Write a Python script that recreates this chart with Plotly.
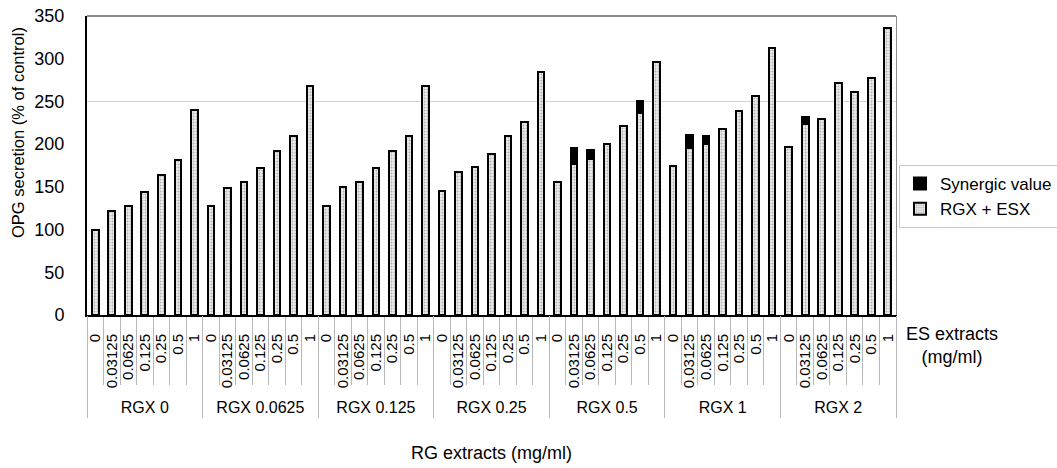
import plotly.graph_objects as go

rg_groups = ["RGX 0", "RGX 0.0625", "RGX 0.125", "RGX 0.25", "RGX 0.5", "RGX 1", "RGX 2"]
es_levels = ["0", "0.03125", "0.0625", "0.125", "0.25", "0.5", "1"]

# RGX + ESX values per RG group (each list follows es_levels)
rgx_0 = [100, 122, 128, 144, 164, 181, 240]
rgx_00625 = [128, 149, 156, 172, 192, 209, 268]
rgx_0125 = [128, 150, 156, 172, 192, 209, 268]
rgx_025 = [145, 167, 173, 189, 209, 226, 285]
rgx_05 = [156, 177, 183, 200, 221, 236, 296]
rgx_1 = [174, 195, 200, 218, 239, 256, 313]
rgx_2 = [197, 223, 230, 271, 261, 278, 336]

# Synergic value stacked on top (None = no synergy)
syn_0 = [None] * 7
syn_00625 = [None] * 7
syn_0125 = [None] * 7
syn_025 = [None] * 7
syn_05 = [None, 18, 10, None, None, 14.5, None]
syn_1 = [None, 16, 10, None, None, None, None]
syn_2 = [None, 9, None, None, None, None, None]

base_lists = [rgx_0, rgx_00625, rgx_0125, rgx_025, rgx_05, rgx_1, rgx_2]
syn_lists = [syn_0, syn_00625, syn_0125, syn_025, syn_05, syn_1, syn_2]

inner, base_vals, syn_vals = [], [], []
for bl, sl in zip(base_lists, syn_lists):
    inner.extend(es_levels)
    base_vals.extend(bl)
    syn_vals.extend(sl)

n_in = len(es_levels)
n = len(inner)
pos = list(range(n))
inner_bounds = [i + 0.5 for i in range(n - 1) if (i + 1) % n_in != 0]
group_bounds = [g * n_in - 0.5 for g in range(len(rg_groups) + 1)]
group_centers = [g * n_in + (n_in - 1) / 2 for g in range(len(rg_groups))]
xr = [-0.5, n - 0.5]

FONT = "Liberation Sans, Arial, sans-serif"
GRAY = "#b8b8b8"

# plot-area geometry in pixels (for converting text positions to paper coords)
W, H = 1057, 468
L, R, T, B = 87, 161, 16, 153
PW, PH = W - L - R, H - T - B


def px_x(x):
    return (x - L) / PW


def px_y(y):
    return (H - B - y) / PH


fig = go.Figure()
fig.add_trace(go.Bar(
    x=pos, y=base_vals, name="RGX + ESX",
    marker=dict(color="#e6e6e6",
                line=dict(color="black", width=2),
                pattern=dict(shape=".", bgcolor="#ececec", fgcolor="#7a7a7a",
                             size=3, solidity=0.35)),
))
fig.add_trace(go.Bar(
    x=pos, y=syn_vals, name="Synergic value",
    marker=dict(color="black", line=dict(color="black", width=2)),
))
# helper traces for the overlay axes (group labels / 250 gridline)
fig.add_trace(go.Scatter(x=[None], y=[None], xaxis="x2", yaxis="y",
                         showlegend=False, hoverinfo="skip"))
fig.add_trace(go.Scatter(x=[None], y=[None], xaxis="x", yaxis="y2",
                         showlegend=False, hoverinfo="skip"))

fig.update_layout(
    width=W, height=H,
    margin=dict(l=L, r=R, t=T, b=B, autoexpand=False),
    barmode="stack", bargap=0.6,
    paper_bgcolor="white", plot_bgcolor="white",
    font=dict(family=FONT, color="black", size=18),
    showlegend=True,
    legend=dict(x=px_x(899), xanchor="left", y=px_y(165), yanchor="top",
                traceorder="reversed",
                bordercolor="#c8c8c8", borderwidth=1, bgcolor="white",
                font=dict(size=17, family=FONT), itemwidth=30,
                tracegroupgap=0),
    xaxis=dict(
        range=xr, automargin=False, showline=True, linecolor="black", linewidth=2,
        tickmode="array", tickvals=pos, ticktext=inner, tickangle=-90,
        ticks="", ticklabelstandoff=11, tickfont=dict(size=15, family=FONT),
        minor=dict(tickmode="array", tickvals=inner_bounds, ticks="outside",
                   ticklen=68, tickcolor=GRAY, tickwidth=1, showgrid=False),
        showgrid=False, zeroline=False,
    ),
    xaxis2=dict(
        range=xr, overlaying="x", anchor="y", side="bottom", automargin=False,
        showline=False, tickmode="array", tickvals=group_centers, ticktext=rg_groups,
        ticks="", ticklabelstandoff=81, tickfont=dict(size=16, family=FONT),
        minor=dict(tickmode="array", tickvals=group_bounds, ticks="outside",
                   ticklen=102, tickcolor=GRAY, tickwidth=1, showgrid=False),
        showgrid=False, zeroline=False,
        title=dict(text="RG extracts (mg/ml)", font=dict(size=18, family=FONT), standoff=31),
    ),
    yaxis=dict(
        range=[0, 350], dtick=50, automargin=False, showline=True, linecolor="black",
        linewidth=2, ticks="", showgrid=False, zeroline=False,
        tickfont=dict(size=18, family=FONT), ticklabelstandoff=17,
    ),
    yaxis2=dict(
        range=[0, 350], overlaying="y", side="right", tickvals=[250], automargin=False,
        showticklabels=False, showgrid=True, gridcolor="#d4d4d4", gridwidth=1,
        showline=True, linecolor="#8c8c8c", linewidth=1, ticks="", zeroline=False,
    ),
    shapes=[dict(type="line", xref="paper", yref="paper", x0=0, x1=1, y0=1, y1=1,
                 line=dict(color="#8c8c8c", width=2))],
    annotations=[
        dict(text="ES extracts<br>(mg/ml)", xref="paper", yref="paper",
             x=px_x(952), y=px_y(345), xanchor="center", yanchor="middle",
             showarrow=False, align="center", font=dict(size=18, family=FONT)),
        dict(text="OPG secretion (% of control)", xref="paper", yref="paper",
             x=px_x(18), y=px_y(133), xanchor="center", yanchor="middle",
             textangle=-90, showarrow=False, font=dict(size=16.5, family=FONT)),
    ],
)

fig.write_html("out.html")
